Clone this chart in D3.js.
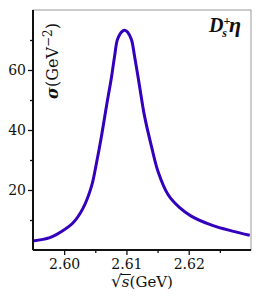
<!DOCTYPE html>
<html>
<head>
<meta charset="utf-8">
<script src="https://cdn.jsdelivr.net/npm/d3@7"></script>
<style>
  body { margin: 0; background: #fff; }
  svg { display: block; }
  text { font-family: "DejaVu Serif", serif; fill: #111; }
</style>
</head>
<body>
<div class="chart"></div>
<script>
const energy = [2.5950, 2.5977, 2.5996, 2.6014, 2.6030, 2.6044, 2.6052, 2.6060, 2.6068, 2.6076,
  2.6081, 2.6086, 2.6094, 2.6098, 2.6102, 2.6108, 2.6113, 2.6121, 2.6129, 2.6140, 2.6151,
  2.6167, 2.6185, 2.6204, 2.6238, 2.6270, 2.6298];
const sigma = [3.0, 4.1, 6.2, 9.0, 13.8, 21.3, 29.1, 38.0, 48.0, 57.6,
  64.6, 70.4, 73.0, 73.2, 72.6, 70.2, 64.7, 54.7, 44.7, 34.7, 26.0,
  18.4, 14.2, 11.3, 8.2, 6.3, 4.9];
const xTicks = [2.60, 2.61, 2.62];
const xMinor = [2.605, 2.615, 2.625];
const yTicks = [20, 40, 60];
const yMinor = [10, 30, 50, 70];

const width = 256;
const height = 296;
const margin = { top: 10, right: 5, bottom: 46, left: 33 };
const innerW = width - margin.left - margin.right;
const innerH = height - margin.top - margin.bottom;

const svg = d3.select('.chart').append('svg')
  .attr('width', width)
  .attr('height', height);

const graph = svg.append('g')
  .attr('transform', `translate(${margin.left}, ${margin.top})`);

const x = d3.scaleLinear().domain([2.595, 2.63]).range([0, innerW]);
const y = d3.scaleLinear().domain([0, 80]).range([innerH, 0]);

// thin frame on top / right
graph.append('rect')
  .attr('width', innerW).attr('height', innerH)
  .attr('fill', 'none').attr('stroke', '#999').attr('stroke-width', 1);

const points = energy.map((e, i) => [e, sigma[i]]);
const line = d3.line()
  .x((d) => x(d[0]))
  .y((d) => y(d[1]))
  .curve(d3.curveCatmullRom.alpha(0.5));

graph.append('path')
  .datum(points)
  .attr('fill', 'none')
  .attr('stroke', '#3300bb')
  .attr('stroke-width', 3)
  .attr('stroke-linejoin', 'round')
  .attr('d', line);

// axes
const xAxis = graph.append('g')
  .attr('transform', `translate(0, ${innerH})`)
  .call(d3.axisBottom(x).tickValues(xTicks).tickFormat(d3.format('.2f')).tickSize(5).tickPadding(4));
graph.append('g')
  .attr('transform', `translate(0, ${innerH})`)
  .call(d3.axisBottom(x).tickValues(xMinor).tickFormat('').tickSize(3))
  .select('.domain').remove();

const yAxis = graph.append('g')
  .call(d3.axisLeft(y).tickValues(yTicks).tickSize(5).tickPadding(2));
graph.append('g')
  .call(d3.axisLeft(y).tickValues(yMinor).tickFormat('').tickSize(3))
  .select('.domain').remove();

svg.selectAll('.tick line').attr('stroke', '#111').attr('stroke-width', 1.3);
xAxis.select('.domain').attr('stroke', '#111').attr('stroke-width', 2).attr('d', `M0,0H${innerW}`);
yAxis.select('.domain').attr('stroke', '#111').attr('stroke-width', 2).attr('d', `M0,0V${innerH}`);
svg.selectAll('.tick text')
  .style('font-family', '"DejaVu Serif", serif')
  .style('font-size', '14px')
  .attr('fill', '#111');

// x label
const xl = svg.append('text')
  .attr('x', 142)
  .attr('y', 287)
  .attr('text-anchor', 'middle')
  .style('font-size', '15px');
xl.append('tspan').style('font-size', '17px').text('√');
const sSpan = xl.append('tspan').attr('font-style', 'italic').text('s');
xl.append('tspan').text('(GeV)');
const sb = sSpan.node().getBBox();
svg.append('line')
  .attr('x1', sb.x - 1).attr('x2', sb.x + sb.width + 1)
  .attr('y1', sb.y + 1.5).attr('y2', sb.y + 1.5)
  .attr('stroke', '#111').attr('stroke-width', 1);

// y label
const yl = svg.append('text')
  .attr('transform', 'translate(58, 61) rotate(-90)')
  .attr('text-anchor', 'middle')
  .style('font-size', '16px');
yl.append('tspan').attr('font-style', 'italic').attr('font-weight', 'bold').text('σ');
yl.append('tspan').text('(GeV');
yl.append('tspan').attr('dy', -6).style('font-size', '12px').text('−2');
yl.append('tspan').attr('dy', 6).text(')');

// channel label
const cl = svg.append('text')
  .attr('x', 241)
  .attr('y', 32)
  .attr('text-anchor', 'end')
  .attr('font-style', 'italic')
  .attr('font-weight', 'bold')
  .style('font-family', '"Liberation Serif", serif')
  .style('font-size', '20px');
cl.append('tspan').text('D');
cl.append('tspan').attr('dy', -7).style('font-size', '12px').text('+');
cl.append('tspan').attr('dx', -8).attr('dy', 12).style('font-size', '12px').text('s');
cl.append('tspan').attr('dx', 2).attr('dy', -5).style('font-size', '22px').text('η');
</script>
</body>
</html>
